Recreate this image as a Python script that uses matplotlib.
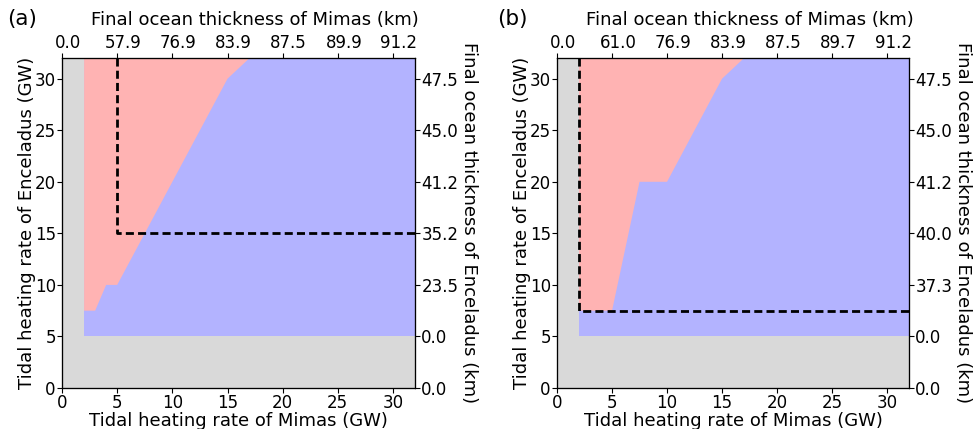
import numpy as np
import matplotlib
matplotlib.use("Agg")
import matplotlib.pyplot as plt
from matplotlib.transforms import ScaledTranslation

# heating-rate grid limits (GW)
lim = 32
min_mimas = 2      # below this Mimas has no ocean
min_enceladus = 5  # below this Enceladus has no ocean
gw_ticks = [0, 5, 10, 15, 20, 25, 30]

# red/blue boundary (Mimas GW, Enceladus GW)
boundary_x_a = [2, 3, 4, 5, 15, 17]
boundary_y_a = [7.5, 7.5, 10, 10, 30, 32]
boundary_x_b = [2, 5, 7.5, 10, 15, 17]
boundary_y_b = [7.5, 7.5, 20, 20, 30, 32]

# dashed constraint corner (Mimas GW, Enceladus GW)
corner_a = (5, 15)
corner_b = (2, 7.5)

# ocean thickness labels (km) on the twin axes
mimas_ocean_a = ['0.0', '57.9', '76.9', '83.9', '87.5', '89.9', '91.2']
mimas_ocean_b = ['0.0', '61.0', '76.9', '83.9', '87.5', '89.7', '91.2']
encel_ocean_a = ['0.0', '0.0', '23.5', '35.2', '41.2', '45.0', '47.5']
encel_ocean_b = ['0.0', '0.0', '37.3', '40.0', '41.2', '45.0', '47.5']

fig = plt.figure(figsize=(9.74, 4.29), dpi=100)
ax_a = fig.add_axes([0.0637, 0.0956, 0.3624, 0.769])
ax_b = fig.add_axes([0.5719, 0.0956, 0.3614, 0.769])

TICK_FS = 12
LABEL_FS = 13


def panel(ax, bx, by, corner, top_labels, right_labels):
    ax.set_facecolor('#d9d9d9')
    # both oceans survive
    ax.fill([min_mimas, lim, lim, min_mimas],
            [min_enceladus, min_enceladus, lim, lim],
            color='#b3b3ff', lw=0)
    ax.fill(list(bx) + [min_mimas], list(by) + [lim],
            color='#ffb3b3', lw=0)
    cx, cy = corner
    ax.plot([cx, cx, lim], [lim, cy, cy], color='k', ls=(0, (2.9, 1.5)), lw=2)
    ax.set_xlim(0, lim)
    ax.set_ylim(0, lim)
    ax.set_xticks(gw_ticks)
    ax.set_yticks(gw_ticks)
    ax.set_xlabel('Tidal heating rate of Mimas (GW)', fontsize=LABEL_FS, labelpad=0)
    ax.set_ylabel('Tidal heating rate of Enceladus (GW)', fontsize=LABEL_FS, labelpad=-1)
    ax.tick_params(labelsize=TICK_FS, pad=1)

    top = ax.twiny()
    top.set_xlim(0, lim)
    top.set_xticks(gw_ticks)
    top.set_xticklabels(top_labels)
    top.set_xlabel('Final ocean thickness of Mimas (km)', fontsize=LABEL_FS)
    top.xaxis.set_label_coords(0.547, 1.10)
    top.tick_params(labelsize=TICK_FS, pad=1)
    nudge = ScaledTranslation(6 / 100, 0, fig.dpi_scale_trans)
    for lab in top.get_xticklabels():
        lab.set_transform(lab.get_transform() + nudge)

    right = ax.twinx()
    right.set_ylim(0, lim)
    right.set_yticks(gw_ticks)
    right.set_yticklabels(right_labels)
    right.set_ylabel('Final ocean thickness of Enceladus (km)', fontsize=LABEL_FS,
                     rotation=-90, labelpad=14)
    right.tick_params(labelsize=TICK_FS, pad=1)


panel(ax_a, boundary_x_a, boundary_y_a, corner_a, mimas_ocean_a, encel_ocean_a)
panel(ax_b, boundary_x_b, boundary_y_b, corner_b, mimas_ocean_b, encel_ocean_b)

fig.text(7 / 974, 1 - 9 / 429, '(a)', fontsize=15.5, va='top')
fig.text(497 / 974, 1 - 9 / 429, '(b)', fontsize=15.5, va='top')

fig.savefig('out.png', dpi=100)
